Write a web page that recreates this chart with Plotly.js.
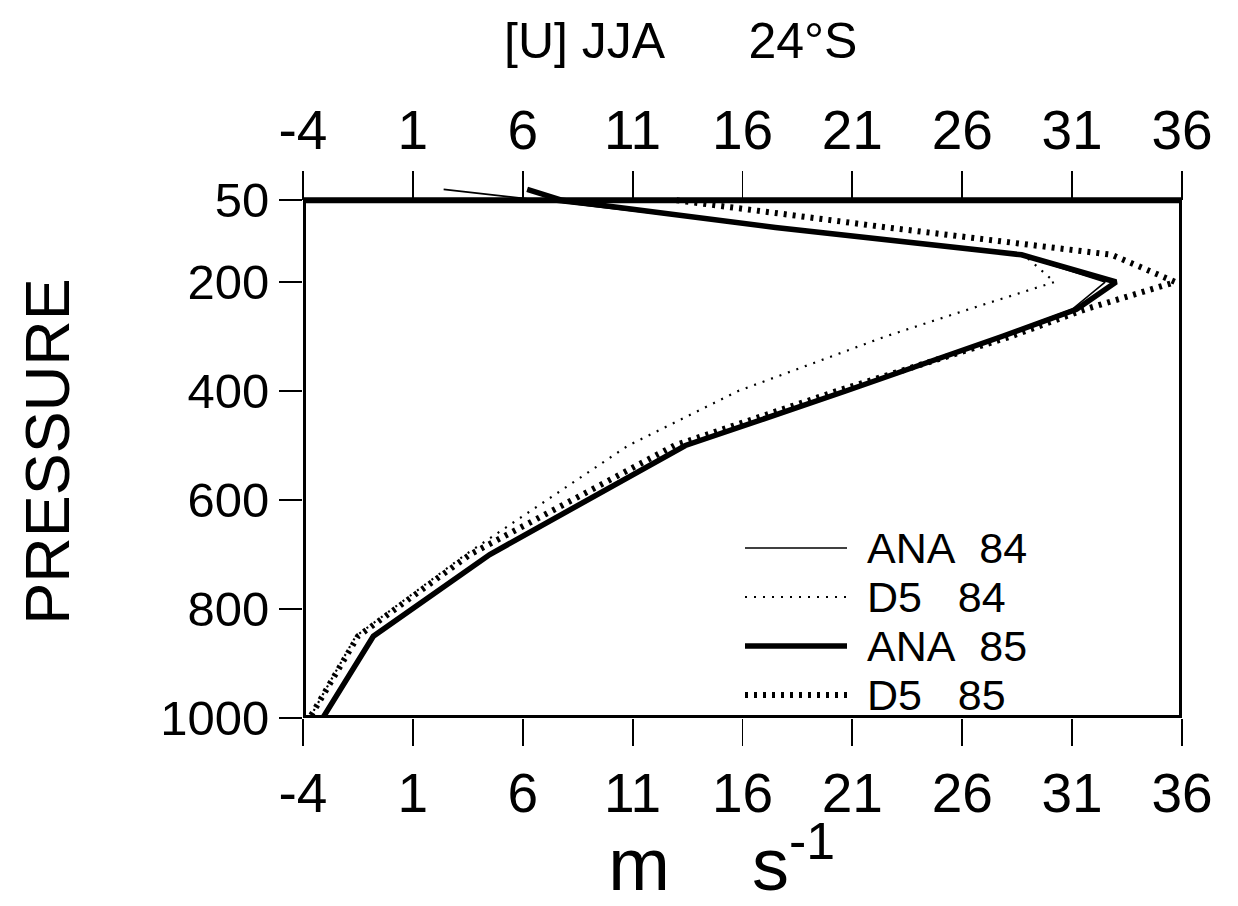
<!DOCTYPE html>
<html>
<head>
<meta charset="utf-8">
<script src="https://cdn.plot.ly/plotly-3.0.1.min.js"></script>
<style>
  html, body { margin: 0; padding: 0; background: #ffffff; }
  #chart { width: 1238px; height: 906px; }
</style>
</head>
<body>
<div id="chart"></div>
<script>
// ---- data ----
const pressureANA = [30, 50, 100, 150, 200, 250, 300, 400, 500, 700, 850, 1000];
const pressureD5  = [50, 100, 150, 200, 250, 300, 400, 500, 700, 850, 1000];
const ana84 = [2.4, 6.8, 17.5, 28.6, 32.5, 31.0, 27.7, 20.6, 13.3, 4.5, -0.8, -3.1];
const d584  = [7.5, 17.8, 28.8, 30.2, 26.3, 22.5, 15.8, 10.8, 3.4, -1.6, -3.7];
const ana85 = [6.2, 7.8, 17.5, 28.7, 33.0, 31.2, 27.8, 20.7, 13.4, 4.5, -0.8, -3.1];
const d585  = [13.0, 22.6, 32.8, 35.7, 31.6, 28.2, 20.3, 12.9, 3.6, -1.5, -3.7];
const seriesNames = ['ANA\u00a0\u00a084', 'D5\u00a0\u00a0\u00a084', 'ANA\u00a0\u00a085', 'D5\u00a0\u00a0\u00a085'];
const xTickVals = [-4, 1, 6, 11, 16, 21, 26, 31, 36];
const xTickText = ['-4', '1', '6', '11', '16', '21', '26', '31', '36'];
const yTickVals = [50, 200, 400, 600, 800, 1000];
const yTickText = ['50', '200', '400', '600', '800', '1000'];

const FONT = 'Liberation Sans, Arial, Helvetica, sans-serif';

const styles = [
  {width: 1.6, dash: 'solid'},
  {width: 2.2, dash: '2px,7px'},
  {width: 5.5, dash: 'solid'},
  {width: 6, dash: '3px,6px'}
];
const xs = [ana84, d584, ana85, d585];
const ys = [pressureANA, pressureD5, pressureANA, pressureD5];
// thin series sit on the top axis (same range), thick on the bottom axis
const xAxisOf = ['x2', 'x2', 'x', 'x'];
const drawOrder = [3, 2, 1, 0];

const traces = drawOrder.map(i => ({
  type: 'scatter', mode: 'lines',
  x: xs[i], y: ys[i], name: seriesNames[i],
  xaxis: xAxisOf[i], yaxis: 'y',
  line: {color: '#000000', width: styles[i].width, dash: styles[i].dash},
  showlegend: false, cliponaxis: false, hoverinfo: 'skip'
}));

// layout geometry
const ML = 303, MR = 56, MT = 185, MB = 188;
const W = 1238, H = 906;
const plotW = W - ML - MR, plotH = H - MT - MB;
const yTop = 22, yBottom = 1000;
const framePos = (yBottom - 50) / (yBottom - yTop);

// custom legend (line samples + labels)
const legendRowsPx = [548, 597, 646, 695];
const shapes = [{
  type: 'rect', xref: 'x', yref: 'y', x0: -4, x1: 36, y0: 50, y1: 1000,
  line: {color: '#000000', width: 6}, fillcolor: 'rgba(0,0,0,0)', layer: 'above'
}];
const annotations = [];
seriesNames.forEach((nm, i) => {
  const py = (MT + plotH - legendRowsPx[i]) / plotH;
  shapes.push({
    type: 'line', xref: 'paper', yref: 'paper',
    x0: (745 - ML) / plotW, x1: (847 - ML) / plotW, y0: py, y1: py,
    line: {color: '#000000', width: styles[i].width, dash: styles[i].dash}
  });
  annotations.push({
    xref: 'paper', yref: 'paper', x: (866 - ML) / plotW, y: py,
    xanchor: 'left', yanchor: 'middle', showarrow: false, borderpad: 0,
    text: nm, font: {family: FONT, size: 43, color: '#000000'}
  });
});

const tickCommon = {
  range: [-4, 36], autorange: false,
  tickmode: 'array', tickvals: xTickVals, ticktext: xTickText,
  ticks: 'outside', tickwidth: 1.8, tickcolor: '#000000',
  showline: false, showgrid: false, zeroline: false, automargin: false
};

const layout = {
  width: W, height: H,
  paper_bgcolor: '#ffffff', plot_bgcolor: '#ffffff',
  margin: {l: ML, r: MR, t: MT, b: MB, pad: 0},
  showlegend: false,
  font: {family: FONT, color: '#000000'},
  title: {
    text: '[U] JJA\u00a0\u00a0\u00a0\u00a0\u00a0\u00a024\u00b0S',
    font: {family: FONT, size: 50, color: '#000000'},
    xref: 'container', yref: 'container',
    x: 504 / W, xanchor: 'left', y: 1 - 40 / H, yanchor: 'middle'
  },
  xaxis: Object.assign({}, tickCommon, {
    ticklen: 27,
    tickfont: {family: FONT, size: 55, color: '#000000'},
    title: {
      text: 'm\u00a0\u00a0\u00a0\u00a0s<sup>-1</sup><span style="font-size:30px">\u00a0\u00a0\u00a0\u00a0\u00a0</span>',
      font: {family: FONT, size: 74, color: '#000000'},
      standoff: 6
    }
  }),
  xaxis2: Object.assign({}, tickCommon, {
    overlaying: 'x', side: 'top', anchor: 'free', position: framePos,
    ticklen: 29,
    tickfont: {family: FONT, size: 55, color: '#000000'}
  }),
  yaxis: {
    range: [yBottom, yTop], autorange: false,
    tickmode: 'array', tickvals: yTickVals, ticktext: yTickText,
    ticks: 'outside', ticklen: 23, tickwidth: 1.8, tickcolor: '#000000',
    showline: false, showgrid: false, zeroline: false,
    tickfont: {family: FONT, size: 49, color: '#000000'},
    title: {
      text: 'PRESSURE',
      font: {family: FONT, size: 63, color: '#000000'},
      standoff: 70
    },
    automargin: false
  },
  shapes: shapes,
  annotations: annotations
};

Plotly.newPlot('chart', traces, layout, {displayModeBar: false, staticPlot: true});
</script>
</body>
</html>
